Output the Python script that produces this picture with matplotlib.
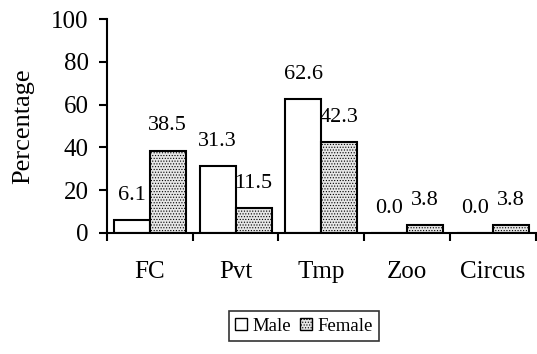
import numpy as np
import matplotlib
matplotlib.use("Agg")
import matplotlib.pyplot as plt
from matplotlib.patches import Patch

plt.rcParams["font.family"] = ["Liberation Serif", "DejaVu Serif"]
plt.rcParams["hatch.linewidth"] = 0.5
plt.rcParams["hatch.color"] = "#555555"

categories = ["FC", "Pvt", "Tmp", "Zoo", "Circus"]
male = [6.1, 31.3, 62.6, 0.0, 0.0]
female = [38.5, 11.5, 42.3, 3.8, 3.8]

fig = plt.figure(figsize=(5.37, 3.54), dpi=100)
ax = fig.add_axes([0.199, 0.342, 0.799, 0.604])

x = np.arange(len(categories))
w = 0.42
bm = ax.bar(x - w / 2, male, w, color="white", edgecolor="black", linewidth=1.5)
bf = ax.bar(x + w / 2, female, w, color="#e6e6e6", edgecolor="black",
            linewidth=1.5, hatch="......")

# value labels above each bar
for rects, vals in ((bm, male), (bf, female)):
    for r, v in zip(rects, vals):
        ax.annotate(f"{v:.1f}", (r.get_x() + r.get_width() / 2, v),
                    xytext=(0, 11), textcoords="offset points",
                    ha="center", va="bottom", fontsize=16)

ax.set_xlim(-0.5, len(categories) - 0.5)
ax.set_ylim(0, 100)
ax.set_yticks([0, 20, 40, 60, 80, 100])
ax.set_xticks(x)
ax.set_xticklabels(categories, fontsize=18)
ax.set_xticks(np.arange(len(categories) + 1) - 0.5, minor=True)
ax.tick_params(axis="x", which="major", length=0, pad=20)
ax.tick_params(axis="x", which="minor", length=6, width=1.5, direction="out")
ax.tick_params(axis="y", labelsize=18, length=6, width=1.5, direction="out", pad=7)
ax.set_ylabel("Percentage", fontsize=19, labelpad=12)

for s in ("top", "right"):
    ax.spines[s].set_visible(False)
for s in ("left", "bottom"):
    ax.spines[s].set_linewidth(1.5)

handles = [Patch(facecolor="white", edgecolor="black", label="Male"),
           Patch(facecolor="#e6e6e6", edgecolor="black", hatch="......", label="Female")]
leg = fig.legend(handles=handles, loc="center", bbox_to_anchor=(0.566, 0.078),
                 ncol=2, fontsize=13.5, frameon=True, fancybox=False,
                 handlelength=0.6, handleheight=0.6, handletextpad=0.3,
                 columnspacing=0.5, borderpad=0.35)
leg.get_frame().set_edgecolor("black")
leg.get_frame().set_linewidth(1.2)

fig.savefig("out.png", dpi=100)
